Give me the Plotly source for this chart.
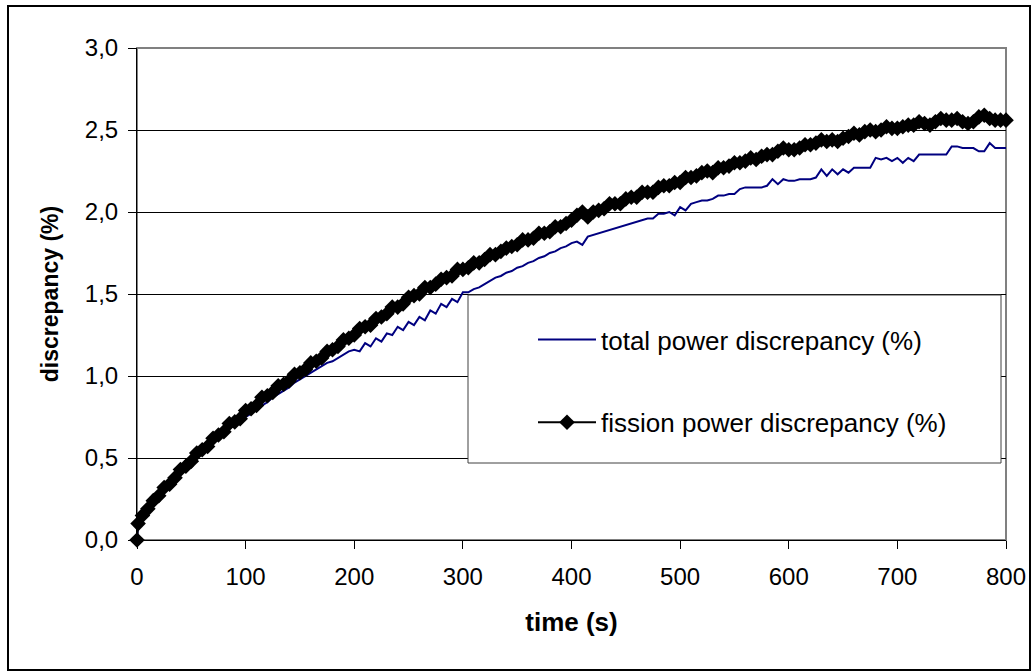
import plotly.graph_objects as go

# ---------------- data ----------------
fission_t = [0, 1] + list(range(5, 805, 5))
fission_v = [
    0.00, 0.10,
    0.15, 0.19, 0.24, 0.27, 0.32, 0.34, 0.38, 0.43, 0.45, 0.48,
    0.53, 0.55, 0.57, 0.62, 0.64, 0.66, 0.71, 0.72, 0.74, 0.79,
    0.80, 0.82, 0.87, 0.88, 0.90, 0.94, 0.95, 0.97, 1.01, 1.02,
    1.04, 1.08, 1.09, 1.11, 1.15, 1.16, 1.18, 1.22, 1.23, 1.25,
    1.29, 1.30, 1.31, 1.35, 1.36, 1.38, 1.42, 1.42, 1.44, 1.48,
    1.49, 1.50, 1.54, 1.54, 1.56, 1.59, 1.60, 1.61, 1.65, 1.65,
    1.66, 1.69, 1.69, 1.71, 1.74, 1.74, 1.76, 1.78, 1.79, 1.80,
    1.83, 1.83, 1.84, 1.87, 1.87, 1.88, 1.91, 1.91, 1.93, 1.95,
    1.98, 2.00, 1.97, 2.00, 2.01, 2.02, 2.05, 2.05, 2.05, 2.08,
    2.09, 2.09, 2.12, 2.12, 2.12, 2.15, 2.16, 2.16, 2.18, 2.18,
    2.21, 2.21, 2.22, 2.24, 2.25, 2.24, 2.27, 2.27, 2.28, 2.30,
    2.30, 2.31, 2.33, 2.32, 2.34, 2.35, 2.35, 2.37, 2.39, 2.38,
    2.38, 2.39, 2.41, 2.41, 2.42, 2.44, 2.43, 2.44, 2.43, 2.45,
    2.46, 2.48, 2.47, 2.49, 2.50, 2.49, 2.50, 2.52, 2.51, 2.51,
    2.52, 2.53, 2.53, 2.55, 2.54, 2.53, 2.55, 2.57, 2.56, 2.56,
    2.57, 2.55, 2.54, 2.55, 2.58, 2.59, 2.57, 2.56, 2.56, 2.56,
]

total_t = [0, 1] + list(range(5, 805, 5))
total_v = [
    0.00, 0.09,
    0.14, 0.19, 0.23, 0.27, 0.30, 0.34, 0.38, 0.41, 0.45, 0.48,
    0.51, 0.54, 0.57, 0.60, 0.63, 0.65, 0.68, 0.70, 0.73, 0.75,
    0.77, 0.80, 0.82, 0.84, 0.87, 0.89, 0.91, 0.93, 0.96, 0.98,
    1.00, 1.02, 1.04, 1.06, 1.08, 1.09, 1.11, 1.13, 1.15, 1.16,
    1.15, 1.20, 1.18, 1.23, 1.21, 1.26, 1.25, 1.30, 1.28, 1.33,
    1.31, 1.36, 1.34, 1.40, 1.38, 1.44, 1.42, 1.47, 1.45, 1.51,
    1.51, 1.53, 1.54, 1.56, 1.58, 1.60, 1.61, 1.63, 1.64, 1.66,
    1.67, 1.69, 1.70, 1.72, 1.73, 1.75, 1.76, 1.78, 1.79, 1.81,
    1.82, 1.80, 1.85, 1.86, 1.87, 1.88, 1.89, 1.90, 1.91, 1.92,
    1.93, 1.94, 1.95, 1.96, 1.96, 1.99, 1.99, 2.00, 1.98, 2.03,
    2.01, 2.05, 2.06, 2.07, 2.07, 2.08, 2.10, 2.10, 2.11, 2.11,
    2.14, 2.15, 2.15, 2.15, 2.15, 2.16, 2.20, 2.17, 2.20, 2.19,
    2.19, 2.20, 2.20, 2.20, 2.21, 2.26, 2.22, 2.26, 2.23, 2.26,
    2.24, 2.27, 2.27, 2.27, 2.27, 2.33, 2.32, 2.33, 2.31, 2.33,
    2.30, 2.33, 2.31, 2.35, 2.35, 2.35, 2.35, 2.35, 2.35, 2.40,
    2.40, 2.39, 2.39, 2.39, 2.37, 2.37, 2.42, 2.39, 2.39, 2.39,
]

x_ticks = [0, 100, 200, 300, 400, 500, 600, 700, 800]
y_ticks = [0.0, 0.5, 1.0, 1.5, 2.0, 2.5, 3.0]

series_names = ["total power discrepancy (%)", "fission power discrepancy (%)"]
x_title = "time (s)"
y_title = "discrepancy (%)"

# ---------------- layout geometry (pixels) ----------------
W, H = 1033, 672
L, R, T, B = 137, 1006, 48, 540
pw, ph = R - L, B - T


def px(x):
    return (x - L) / pw


def py(y):
    return (B - y) / ph


FONT = "Arial, Liberation Sans, sans-serif"

fig = go.Figure()
fig.add_trace(go.Scatter(
    x=total_t, y=total_v, name=series_names[0], mode="lines",
    line=dict(color="#000080", width=2), legendgroup="a",
))
fig.add_trace(go.Scatter(
    x=fission_t, y=fission_v, name=series_names[1], mode="lines+markers",
    line=dict(color="#000000", width=2),
    marker=dict(symbol="diamond", size=12, color="#000000"),
    legendgroup="b", cliponaxis=False,
))

shapes = [
    # outer chart border
    dict(type="rect", xref="paper", yref="paper",
         x0=px(8), x1=px(1030), y0=py(670), y1=py(6),
         line=dict(color="#000000", width=2), layer="below"),
    # plot-area border (grey)
    dict(type="rect", xref="paper", yref="paper",
         x0=0, x1=1, y0=0, y1=1,
         line=dict(color="#808080", width=2), layer="below"),
    # legend box
    dict(type="rect", xref="paper", yref="paper",
         x0=px(468), x1=px(1001), y0=py(463), y1=py(295),
         line=dict(color="#404040", width=1), fillcolor="#ffffff",
         layer="above"),
]

fig.update_layout(
    width=W, height=H,
    margin=dict(l=L, r=W - R, t=T, b=H - B, pad=0),
    paper_bgcolor="#ffffff", plot_bgcolor="#ffffff",
    separators=", ",
    font=dict(family=FONT, size=24, color="#000000"),
    showlegend=True,
    legend=dict(
        x=px(533), y=py(316), xanchor="left", yanchor="top",
        bgcolor="rgba(0,0,0,0)", borderwidth=0,
        font=dict(size=26), tracegroupgap=46, itemwidth=58,
        traceorder="grouped",
    ),
    shapes=shapes,
    xaxis=dict(
        range=[0, 800], tickvals=x_ticks, showgrid=False, zeroline=False,
        showline=True, linecolor="#000000", linewidth=1,
        ticks="outside", ticklen=8, tickcolor="#000000",
        tickfont=dict(size=24), ticklabelstandoff=7,
        title=dict(text="<b>" + x_title + "</b>", font=dict(size=26), standoff=24),
        automargin=False,
    ),
    yaxis=dict(
        range=[0, 3.0], tickvals=y_ticks, tickformat=".1f", showgrid=True,
        gridcolor="#000000", gridwidth=1, zeroline=False,
        showline=True, linecolor="#000000", linewidth=1,
        ticks="outside", ticklen=8, tickcolor="#000000",
        tickfont=dict(size=24), ticklabelstandoff=5,
        title=dict(text="<b>" + y_title + "</b>", font=dict(size=23), standoff=19),
        automargin=False,
    ),
)

fig.write_html("out.html")
